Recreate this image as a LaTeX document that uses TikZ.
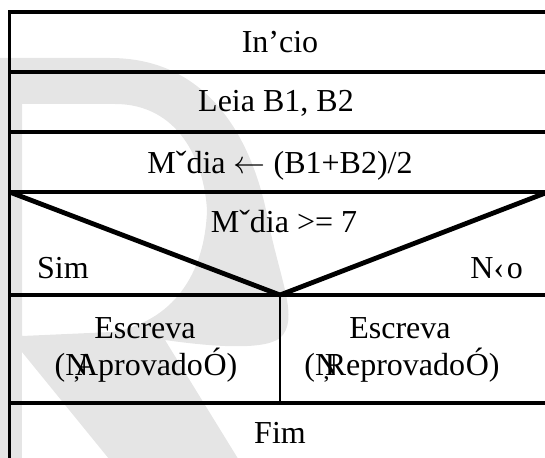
\RequirePackage{fix-cm}
\documentclass[tikz,border=0pt]{standalone}
\usepackage{fontspec}
\setmainfont{Liberation Serif}
\begin{document}
\begin{tikzpicture}[x=1pt,y=-1pt,
  txt/.style={font=\fontsize{32}{36}\selectfont, inner sep=0pt, anchor=base},
  rule/.style={line width=3.4pt, line cap=rect},
  vee/.style={line width=4.8pt, line join=miter},
  split/.style={line width=2.8pt},
  ghost/.style={fill=black!10, draw=none}]
\useasboundingbox (0,0) rectangle (545,457);

% faint letter R in the background
\fill[ghost] (-10,58) rectangle (22,470);
\fill[ghost,even odd rule]
  (-10,58) -- (110,58) .. controls (215,58) and (255,150) .. (268,220)
           .. controls (280,280) and (300,320) .. (280,338)
           .. controls (262,352) and (200,345) .. (165,340)
           -- (245,470) -- (118,470) -- (22,352) -- (-10,352) -- cycle
  (22,104) -- (115,104) .. controls (178,104) and (204,160) .. (207,210)
           .. controls (205,275) and (172,322) .. (112,332) -- (22,336) -- cycle;

% grid coordinates
\coordinate (tl) at (9.5,12);
\coordinate (tr) at (550,12);
\coordinate (bl) at (9.5,470);
\coordinate (br) at (550,470);
\coordinate (r1l) at (9.5,72);   \coordinate (r1r) at (550,72);
\coordinate (r2l) at (9.5,132);  \coordinate (r2r) at (550,132);
\coordinate (r3l) at (9.5,192);  \coordinate (r3r) at (548,192);
\coordinate (r4l) at (9.5,295);  \coordinate (r4r) at (550,295);
\coordinate (r5l) at (9.5,403);  \coordinate (r5r) at (550,403);
\coordinate (apex) at (280,295);
\coordinate (cut) at (280,403);

% outer frame and row separators
\draw[rule] (bl) -- (tl) -- (tr) -- (br);
\draw[rule] (r1l) -- (r1r);
\draw[rule] (r2l) -- (r2r);
\draw[rule] (r3l) -- (r3r);
\draw[rule] (r4l) -- (r4r);
\draw[rule] (r5l) -- (r5r);

% decision triangle and the split between branches
\draw[vee] (r3l) -- (apex) -- (r3r);
\draw[split] (apex) -- (cut);

% texts
\node[txt] (inicio) at (280,53) {In’cio};
\node[txt] (leia) at (276,112) {Leia B1, B2};
\node[txt] (media) at (280,173) {Mˇdia \(\leftarrow\) (B1+B2)/2};
\node[txt] (cond) at (284,232) {Mˇdia >= 7};
\node[txt, anchor=base west] (sim) at (37,278) {Sim};
\node[txt, anchor=base east] (nao) at (523,278) {N‹\kern.08em o};
\node[txt] (esc1) at (145,338) {Escreva};
\node[txt] (apr) at (146,375) {(Ņ\kern-.42em Aprovado\kern.02em Ó)};
\node[txt] (esc2) at (400,338) {Escreva};
\node[txt] (rep) at (402,375) {(Ņ\kern-.42em Reprovado\kern.02em Ó)};
\node[txt] (fim) at (280,443) {Fim};
\end{tikzpicture}
\end{document}
